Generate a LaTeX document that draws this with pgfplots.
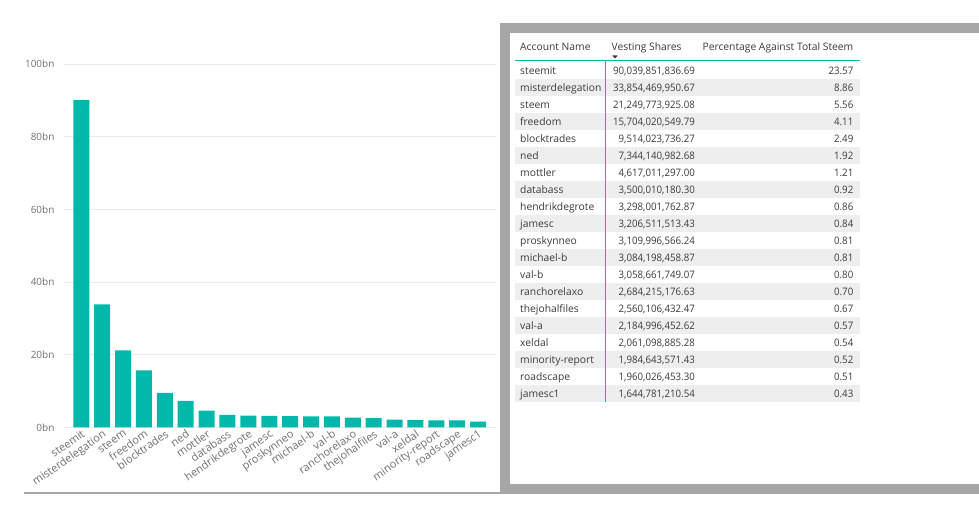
\documentclass[border=0pt]{standalone}
\usepackage{fontspec}
\setmainfont{Open Sans}
\newfontfamily\numfont{Open Sans}[FakeStretch=0.94]
\usepackage{pgfplots}
\usepackage{pgfplotstable}
\pgfplotsset{compat=1.18}

\definecolor{pbiteal}{HTML}{01B8AA}
\definecolor{gridgray}{HTML}{EAEAEA}
\definecolor{labelgray}{HTML}{707070}
\definecolor{framegray}{HTML}{A6A6A6}
\definecolor{rowgray}{HTML}{EEEEEE}
\definecolor{txt}{HTML}{3A3A3A}

% vesting shares per account; bn = vest / 1e9
\pgfplotstableread{
name bn vest pct
steemit 90.03985 90,039,851,836.69 23.57
misterdelegation 33.85447 33,854,469,950.67 8.86
steem 21.24977 21,249,773,925.08 5.56
freedom 15.70402 15,704,020,549.79 4.11
blocktrades 9.51402 9,514,023,736.27 2.49
ned 7.34414 7,344,140,982.68 1.92
mottler 4.61701 4,617,011,297.00 1.21
databass 3.50001 3,500,010,180.30 0.92
hendrikdegrote 3.29800 3,298,001,762.87 0.86
jamesc 3.20651 3,206,511,513.43 0.84
proskynneo 3.11000 3,109,996,566.24 0.81
michael-b 3.08420 3,084,198,458.87 0.81
val-b 3.05866 3,058,661,749.07 0.80
ranchorelaxo 2.68422 2,684,215,176.63 0.70
thejohalfiles 2.56011 2,560,106,432.47 0.67
val-a 2.18500 2,184,996,452.62 0.57
xeldal 2.06110 2,061,098,885.28 0.54
minority-report 1.98464 1,984,643,571.43 0.52
roadscape 1.96003 1,960,026,453.30 0.51
jamesc1 1.64478 1,644,781,210.54 0.43
}\datatable

\begin{document}
\begin{tikzpicture}[x=1pt,y=1pt]
\useasboundingbox (0,0) rectangle (979,513);

% bar chart
\begin{axis}[
    at={(64pt,85.5pt)}, anchor=south west,
    scale only axis, width=432pt, height=363.5pt,
    xmin=-0.83, xmax=19.86, ymin=0, ymax=100,
    axis line style={draw=none},
    major tick length=0pt,
    ytick={0,20,40,60,80,100},
    yticklabels={0bn,20bn,40bn,60bn,80bn,100bn},
    ymajorgrids,
    grid style={line width=0.8pt, color=gridgray},
    xtick=data,
    xticklabels from table={\datatable}{name},
    yticklabel style={font=\fontsize{10}{12}\selectfont, text=labelgray, xshift=-6pt},
    xticklabel style={font=\fontsize{11}{12}\selectfont, text=labelgray,
        rotate=35, anchor=north east, inner sep=1pt},
    clip=false,
]
\addplot[ybar, bar width=16pt, bar shift=0pt, fill=pbiteal, draw=none]
    table[x expr=\coordindex, y=bn] {\datatable};
\end{axis}

\draw[framegray, line width=1.6pt] (24,{513-493}) -- (500,{513-493});

% table panel
\fill[framegray] (500,{513-493.8}) rectangle (979,{513-23});
\fill[white] (510,{513-484}) rectangle (979,{513-33});

\foreach \i in {1,3,...,19}
    \fill[rowgray] (515,{513-62-17*\i}) rectangle (860,{513-79-17*\i});

\begin{scope}[every node/.style={inner sep=0pt, text=txt, font=\fontsize{10.3}{12}\selectfont}]
\node[anchor=base west] at (520,{513-50.7}) {Account Name};
\node[anchor=base west] at (611.5,{513-50.7}) {Vesting Shares};
\node[anchor=base east] at (853.5,{513-50.7}) {Percentage Against Total Steem};
\fill[txt] (612.3,{513-55.5}) -- (617.7,{513-55.5}) -- (615,{513-58.5}) -- cycle;
\draw[pbiteal, line width=1pt] (515,{513-61}) -- (860,{513-61});
\draw[pbiteal, line width=1pt] (605.5,{513-61}) -- (605.5,{513-402});

\foreach \i in {0,...,19}{
    \pgfplotstablegetelem{\i}{name}\of\datatable \let\nm\pgfplotsretval
    \pgfplotstablegetelem{\i}{vest}\of\datatable \let\vs\pgfplotsretval
    \pgfplotstablegetelem{\i}{pct}\of\datatable \let\pc\pgfplotsretval
    \node[anchor=base west] at (520,{513-75-17*\i}) {\nm};
    \node[anchor=base east] at (695,{513-75-17*\i}) {\numfont\vs};
    \node[anchor=base east] at (853.5,{513-75-17*\i}) {\numfont\pc};
}
\end{scope}
\end{tikzpicture}
\end{document}
